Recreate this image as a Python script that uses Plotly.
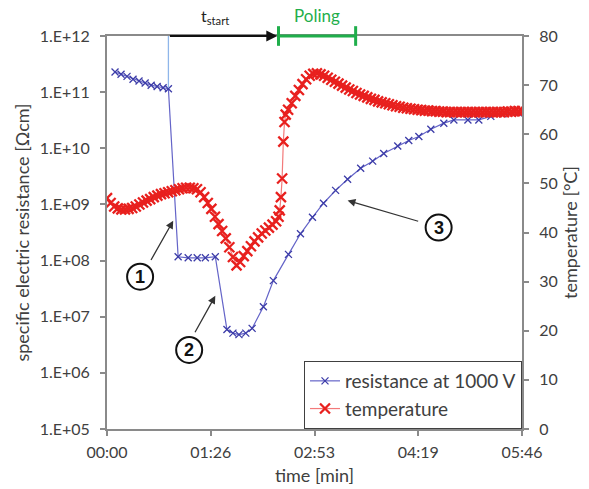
import plotly.graph_objects as go

# ---------------- data ----------------
res_time = [6.7, 11.7, 16.7, 21.7, 26.7, 31.8, 36.8, 41.8, 46.8, 51.2,
            59.3, 67.7, 75.2, 82.0, 90.3,
            100.0, 105.0, 110.0, 115.7, 121.0,
            130.4, 138.7, 151.3, 161.3, 171.3, 180.5, 190.6, 200.6, 211.5, 221.5,
            230.7, 242.4, 251.6, 260.0, 270.0, 280.8, 289.2, 300.9, 310.0, 320.0,
            330.0, 343.0]
res_values = [2.29e11, 2.09e11, 1.91e11, 1.70e11, 1.58e11, 1.45e11, 1.33e11, 1.26e11, 1.20e11, 1.15e11,
              1.17e8, 1.12e8, 1.12e8, 1.12e8, 1.17e8,
              5.9e6, 5.1e6, 4.8e6, 5.1e6, 6.2e6,
              1.5e7, 4.4e7, 1.29e8, 3.0e8, 5.9e8, 1.05e9, 1.78e9, 2.8e9, 4.4e9, 5.9e9,
              8.1e9, 1.1e10, 1.38e10, 1.62e10, 2.19e10, 2.8e10, 3.2e10, 3.2e10, 3.2e10, 3.7e10,
              4.1e10, 4.3e10]

temp_time = [0, 3, 6, 9, 12, 15, 18, 21, 24, 27, 30, 33, 36, 39, 42, 45, 48, 51, 54, 57,
             60, 63, 66, 69, 72, 75, 78, 81, 84, 87, 90, 93, 96, 99, 102, 105, 108, 111, 114, 117,
             120, 123, 126, 129, 132, 135, 138, 141, 143, 144, 145, 146, 147, 148, 149, 151, 154, 157, 160, 163,
             166, 169, 172, 175, 178, 181, 184, 187, 190, 193, 196, 199, 202, 205, 208, 211, 214, 217, 220, 223,
             226, 229, 232, 235, 238, 241, 244, 247, 250, 253, 256, 259, 262, 265, 268, 271, 274, 277, 280, 283,
             286, 289, 292, 295, 298, 301, 304, 307, 310, 313, 316, 319, 322, 325, 328, 331, 334, 337, 340, 343, 346]
temp_values = [47.0, 46.0, 45.3, 44.9, 44.7, 44.7, 44.8, 45.0, 45.3, 45.7, 46.1, 46.5, 46.8, 47.2, 47.5, 47.8, 48.0, 48.2, 48.4, 48.6,
               48.8, 49.0, 49.1, 49.1, 49.0, 48.8, 48.2, 47.2, 46.0, 44.8, 43.2, 41.7, 40.3, 38.8, 37.0, 35.0, 33.3, 34.0, 35.2, 36.2,
               37.2, 38.2, 39.0, 39.8, 40.4, 41.0, 41.6, 42.3, 43.2, 44.5, 47.2, 51.0, 58.5, 62.5, 64.0, 65.0, 66.3, 67.8, 69.0, 70.2,
               71.2, 71.9, 72.3, 72.4, 72.2, 71.9, 71.5, 71.1, 70.7, 70.3, 69.9, 69.5, 69.1, 68.8, 68.4, 68.1, 67.8, 67.5, 67.2, 67.0,
               66.7, 66.5, 66.3, 66.1, 65.9, 65.7, 65.6, 65.4, 65.3, 65.2, 65.1, 65.0, 64.9, 64.8, 64.8, 64.7, 64.7, 64.6, 64.6, 64.5,
               64.5, 64.5, 64.5, 64.5, 64.5, 64.5, 64.5, 64.5, 64.5, 64.5, 64.5, 64.5, 64.5, 64.5, 64.5, 64.5, 64.6, 64.6, 64.7, 64.7, 64.7]

x_tickvals = [0, 86.5, 173, 259.5, 346]
x_ticktext = ["00:00", "01:26", "02:53", "04:19", "05:46"]
y_tickvals = [1e5, 1e6, 1e7, 1e8, 1e9, 1e10, 1e11, 1e12]
y_ticktext = ["1.E+05", "1.E+06", "1.E+07", "1.E+08", "1.E+09", "1.E+10", "1.E+11", "1.E+12"]
y2_tickvals = [0, 10, 20, 30, 40, 50, 60, 70, 80]

# annotation anchors (time in s, temperature axis units)
t_start = 51.2
t_poling_start = 143.0
t_poling_end = 207.3
circles = [("1", 27.6, 31.0, 36.0, 34.1, 55.2, 42.4),
           ("2", 68.5, 16.1, 72.7, 19.4, 90.3, 27.1),
           ("3", 276.5, 41.0, 260.7, 42.2, 200.6, 46.5)]

FONT = "Lato"
TXT = "#404040"
AX = "#8a8a8a"
BLUE_LINE, BLUE_MARK = "#6464c8", "#3c3ca8"
RED_LINE, RED_MARK = "#f37a7a", "#e8201e"

fig = go.Figure()
fig.add_trace(go.Scatter(
    x=res_time, y=res_values, name="resistance at 1000 V", mode="lines+markers",
    line=dict(color=BLUE_LINE, width=1.2),
    marker=dict(symbol="x-thin-open", size=7, color=BLUE_MARK, line=dict(color=BLUE_MARK, width=1.3)),
))
fig.add_trace(go.Scatter(
    x=temp_time, y=temp_values, name="temperature", mode="lines+markers", yaxis="y2",
    line=dict(color=RED_LINE, width=1.2),
    marker=dict(symbol="x-thin-open", size=10, color=RED_MARK, line=dict(color=RED_MARK, width=2.3)),
))

shapes = []
annotations = []
shapes.append(dict(type="line", xref="x", yref="paper", x0=t_start, x1=t_start, y0=1.0, y1=0.868,
                   line=dict(color="#8fb6ea", width=1.3)))
shapes.append(dict(type="line", xref="x", yref="paper", x0=t_poling_start, x1=t_poling_end, y0=1.0, y1=1.0,
                   line=dict(color="#1fae4b", width=3)))
for tx in (t_poling_start, t_poling_end):
    shapes.append(dict(type="line", xref="x", yref="paper", x0=tx, x1=tx, y0=0.975, y1=1.025,
                       line=dict(color="#1fae4b", width=3)))
annotations.append(dict(x=t_poling_start - 1, y=1.0, xref="x", yref="paper", axref="x", ax=t_start,
                        ayref="pixel", ay=0, showarrow=True, arrowhead=2, arrowsize=1.1, arrowwidth=2,
                        arrowcolor="#111111", text=""))
annotations.append(dict(x=90, y=1.018, xref="x", yref="paper", showarrow=False, yanchor="bottom",
                        text="t<sub>start</sub>", font=dict(family=FONT, size=16, color="#222222")))
annotations.append(dict(x=(t_poling_start + t_poling_end) / 2, y=1.02, xref="x", yref="paper",
                        showarrow=False, yanchor="bottom", text="Poling",
                        font=dict(family=FONT, size=17, color="#1fae4b")))

for label, cx, cy, tx, ty, hx, hy in circles:
    shapes.append(dict(type="circle", xref="x", yref="y2", xsizemode="pixel", ysizemode="pixel",
                       xanchor=cx, yanchor=cy, x0=-13, x1=13, y0=-13, y1=13,
                       line=dict(color="#111111", width=2), fillcolor="white"))
    annotations.append(dict(x=cx, y=cy, xref="x", yref="y2", showarrow=False, text="<b>%s</b>" % label,
                            font=dict(family="Liberation Sans", size=18, color="#111111")))
    annotations.append(dict(x=hx, y=hy, xref="x", yref="y2", axref="x", ayref="y2", ax=tx, ay=ty,
                            showarrow=True, arrowhead=2, arrowsize=1.2, arrowwidth=1.3,
                            arrowcolor="#333333", text=""))

axis_common = dict(showgrid=False, zeroline=False, showline=True, linecolor=AX, linewidth=2,
                   ticks="outside", ticklen=5, tickcolor=AX, tickwidth=1.5, automargin=False,
                   tickfont=dict(size=16))

fig.update_layout(
    width=589, height=489,
    margin=dict(l=107, r=67, t=36, b=60),
    paper_bgcolor="white", plot_bgcolor="white",
    font=dict(family=FONT, size=15, color=TXT),
    showlegend=True,
    legend=dict(x=1, xanchor="right", y=0, yanchor="bottom", bgcolor="white",
                bordercolor="#404040", borderwidth=1, font=dict(family=FONT, size=19, color=TXT)),
    xaxis=dict(range=[0, 346], tickvals=x_tickvals, ticktext=x_ticktext, mirror=True,
               ticklabelstandoff=3, title=dict(text="time [min]", standoff=9), **axis_common),
    yaxis=dict(type="log", range=[5, 12], tickvals=y_tickvals, ticktext=y_ticktext,
               ticklabelstandoff=7, title=dict(text="specific electric resistance [Ωcm]", standoff=5),
               **axis_common),
    yaxis2=dict(overlaying="y", side="right", range=[0, 80], tickvals=y2_tickvals,
                ticklabelstandoff=7, title=dict(text="temperature [°C]", standoff=8), **axis_common),
    shapes=shapes, annotations=annotations,
)

fig.write_html("out.html", post_script="document.body.style.margin='0';",
               config={"displayModeBar": False})
